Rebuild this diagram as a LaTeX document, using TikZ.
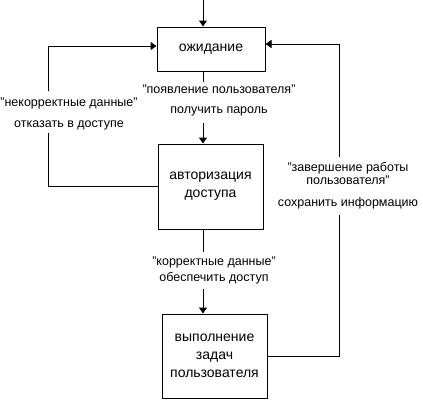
\documentclass[tikz,border=0pt]{standalone}
\usepackage{fontspec}
\setmainfont{Liberation Sans}
\usetikzlibrary{arrows.meta}
\begin{document}
\begin{tikzpicture}[x=1pt,y=-1pt,
  line width=1pt,
  box/.style={draw,line width=1pt,inner sep=0pt,align=center,
    font=\fontsize{14}{18}\selectfont},
  lbl/.style={inner sep=0pt,align=center,font=\fontsize{12.5}{15}\selectfont},
  arr/.style={-{Triangle[width=8pt,length=6pt]}}]
\useasboundingbox[fill=white] (0,0) rectangle (423,413);
% boxes
\node[box,minimum width=108pt,minimum height=44pt] (b1) at (211,49) {ожидание};
\node[box,minimum width=105pt,minimum height=85pt] (b2) at (210.5,186.5) {авторизация\\доступа};
\node[box,minimum width=105pt,minimum height=84pt] (b3) at (214.5,356) {выполнение\\задач\\пользователя};
% labels
\node[lbl] (l1) at (219,100) {"появление пользователя"\\[5pt]получить пароль};
\node[lbl] (l2) at (69,114) {"некорректные данные"\\[6pt]отказать в доступе};
\node[lbl] (l3) at (214,270) {"корректные данные"\\[1pt]обеспечить доступ};
\node[lbl] (l4) at (348,186) {"завершение работы\\[-2pt]пользователя"\\[7pt]сохранить информацию};
% gap coordinates
\coordinate (top) at (203,0);
\coordinate (g1a) at (203,82);
\coordinate (g1b) at (203,123);
\coordinate (g2a) at (48,133);
\coordinate (g2b) at (48,91);
\coordinate (g3a) at (203,252);
\coordinate (g3b) at (203,289);
\coordinate (g4a) at (339,215);
\coordinate (g4b) at (339,157);
% connectors
\draw[arr] (top) -- (b1.north -| top);
\draw (b1.south -| g1a) -- (g1a);
\draw[arr] (g1b) -- (b2.north -| g1b);
\draw (b2.west) -| (g2a);
\draw[arr] (g2b) |- ([yshift=3pt]b1.west);
\draw (b2.south -| g3a) -- (g3a);
\draw[arr] (g3b) -- (b3.north -| g3b);
\draw (b3.east) -| (g4a);
\draw[arr] (g4b) |- ([yshift=5pt]b1.east);
\end{tikzpicture}
\end{document}
